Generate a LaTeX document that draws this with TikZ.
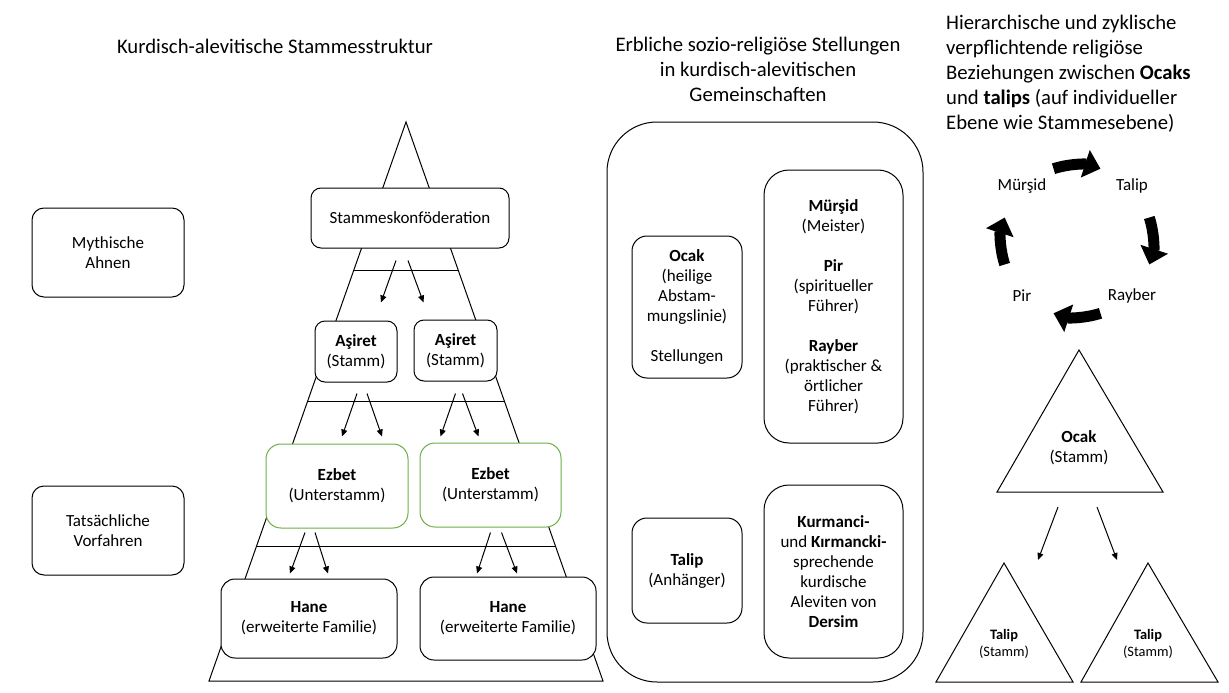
\documentclass[tikz,border=0pt]{standalone}
\usepackage{fontspec}
\setmainfont{Carlito}
\usepackage{tikz}
\usetikzlibrary{arrows.meta,calc}

\definecolor{ezgreen}{RGB}{112,173,71}
\newcommand{\boxtxt}{\fontsize{17}{20}\selectfont}
\newcommand{\headtxt}{\fontsize{20.7}{25}\selectfont}
\newcommand{\smalltxt}{\fontsize{14.4}{17}\selectfont}

\tikzset{
  line/.style={line width=1pt},
  box/.style={draw, line, fill=white, rounded corners=10pt, align=center, inner sep=0pt, font=\boxtxt},
  greenbox/.style={box, draw=ezgreen},
  head/.style={align=center, inner sep=0pt, font=\headtxt},
  lbl/.style={align=center, inner sep=0pt, font=\boxtxt},
  arr/.style={line, -{Triangle[length=7pt,width=6pt]}},
  cycarr/.style={line width=11pt, -{Triangle[length=16pt,width=28pt]}}
}

\begin{document}
\begin{tikzpicture}[x=1pt,y=-1pt]
    \useasboundingbox (0,0) rectangle (1229,693);

    \node[head] (titelA) at (275,46) {Kurdisch-alevitische Stammesstruktur};
    \node[head] (titelB) at (758,69) {Erbliche sozio-religiöse Stellungen\\in kurdisch-alevitischen\\Gemeinschaften};
    \node[head, anchor=west, align=left] (titelC) at (946,74) {Hierarchische und zyklische\\verpflichtende religiöse\\Beziehungen zwischen \textbf{Ocaks}\\und \textbf{talips} (auf individueller\\Ebene wie Stammesebene)};

    \node[box, rounded corners=12pt, minimum width=152, minimum height=89] (myth) at (108,252.5) {Mythische\\Ahnen};
    \node[box, rounded corners=12pt, minimum width=152, minimum height=89] (vorf) at (108,530.5) {Tatsächliche\\Vorfahren};

    % pyramide
    \coordinate (spitze) at (406,122);
    \coordinate (basisL) at (209,681);
    \coordinate (basisR) at (603,681);
    \draw[line] (spitze) -- (basisL) -- (basisR) -- cycle;
    \foreach \t in {0.265,0.5,0.76}
        \draw[line] ($(spitze)!\t!(basisL)$) -- ($(spitze)!\t!(basisR)$);

    \node[box, minimum width=198, minimum height=60] (stamm) at (410,218) {Stammeskonföderation};
    \node[box, minimum width=82, minimum height=61] (asiret1) at (356,351.5) {\textbf{Aşiret}\\(Stamm)};
    \node[box, minimum width=83, minimum height=61] (asiret2) at (455.5,350.5) {\textbf{Aşiret}\\(Stamm)};
    \node[greenbox, rounded corners=15pt, minimum width=142, minimum height=84] (ezbet1) at (337,486) {\textbf{Ezbet}\\(Unterstamm)};
    \node[greenbox, rounded corners=15pt, minimum width=141, minimum height=84] (ezbet2) at (490.5,485) {\textbf{Ezbet}\\(Unterstamm)};
    \node[box, rounded corners=14pt, minimum width=176, minimum height=79] (hane1) at (309,618.5) {\textbf{Hane}\\(erweiterte Familie)};
    \node[box, rounded corners=14pt, minimum width=176, minimum height=83] (hane2) at (508,618.5) {\textbf{Hane}\\(erweiterte Familie)};

    \draw[arr] ([shift={(-14,12)}]stamm.south) -- ([shift={(25,-18)}]asiret1.north);
    \draw[arr] ([shift={(-2,12)}]stamm.south) -- ([shift={(-32,-17)}]asiret2.north);
    \draw[arr] ([shift={(1,11)}]asiret1.south) -- ([shift={(5,-7)}]ezbet1.north);
    \draw[arr] ([shift={(11,11)}]asiret1.south) -- ([shift={(45,-7)}]ezbet1.north);
    \draw[arr] ([shift={(0,12)}]asiret2.south) -- ([shift={(-50,-6)}]ezbet2.north);
    \draw[arr] ([shift={(7,12)}]asiret2.south) -- ([shift={(-12,-6)}]ezbet2.north);
    \draw[arr] ([shift={(-32,4)}]ezbet1.south) -- ([shift={(-19,-5)}]hane1.north);
    \draw[arr] ([shift={(-22,4)}]ezbet1.south) -- ([shift={(19,-5)}]hane1.north);
    \draw[arr] ([shift={(0,5)}]ezbet2.south) -- ([shift={(-31,-3)}]hane2.north);
    \draw[arr] ([shift={(11,5)}]ezbet2.south) -- ([shift={(9,-3)}]hane2.north);

    % stellungen
    \node[box, rounded corners=50pt, minimum width=316, minimum height=560] (rahmen) at (765,402) {};
    \node[box, rounded corners=15pt, minimum width=110, minimum height=142] (ocakbox) at (687,307) {\textbf{Ocak}\\(heilige\\Abstam-\\mungslinie)\\[20pt]Stellungen};
    \node[box, rounded corners=25pt, minimum width=139, minimum height=273] (fuehrer) at (833.5,306.5) {\textbf{Mürşid}\\(Meister)\\[20pt]\textbf{Pir}\\(spiritueller\\Führer)\\[20pt]\textbf{Rayber}\\(praktischer \&\\örtlicher\\Führer)};
    \node[box, rounded corners=15pt, minimum width=110, minimum height=105] (talipbox) at (687,570.5) {\textbf{Talip}\\(Anhänger)};
    \node[box, rounded corners=25pt, minimum width=139, minimum height=173] (dersim) at (833.5,571.5) {\textbf{Kurmanci-}\\und \textbf{Kırmancki-}\\sprechende\\kurdische\\Aleviten von\\\textbf{Dersim}};

    % zyklus
    \coordinate (mitte) at (1077,241);
    \node[lbl] (mursid) at (1022,186) {Mürşid};
    \node[lbl] (talip) at (1132,186) {Talip};
    \node[lbl] (rayber) at (1132,296) {Rayber};
    \node[lbl] (pir) at (1022,296) {Pir};
    \draw[cycarr] ([shift={(-108:76)}]mitte) arc[start angle=-108, end angle=-72, radius=76];
    \draw[cycarr] ([shift={(-18:76)}]mitte) arc[start angle=-18, end angle=18, radius=76];
    \draw[cycarr] ([shift={(72:76)}]mitte) arc[start angle=72, end angle=108, radius=76];
    \draw[cycarr] ([shift={(162:76)}]mitte) arc[start angle=162, end angle=198, radius=76];

    % ocak und talips
    \coordinate (ocakA) at (1079,350);
    \coordinate (ocakB) at (1079,492);
    \draw[line] (ocakA) -- (997,492) -- (1163,492) -- cycle;
    \node[lbl] (ocak) at (1079,448) {\textbf{Ocak}\\(Stamm)};
    \coordinate (talipA) at (1004,563);
    \coordinate (talipB) at (1148,563);
    \draw[line] (talipA) -- (936,682) -- (1073,682) -- cycle;
    \draw[line] (talipB) -- (1081,682) -- (1218,682) -- cycle;
    \node[lbl, font=\smalltxt] (stammA) at (1004,643.5) {\textbf{Talip}\\(Stamm)};
    \node[lbl, font=\smalltxt] (stammB) at (1148,643.5) {\textbf{Talip}\\(Stamm)};
    \draw[arr] ([shift={(-21,15)}]ocakB) -- ([shift={(34,-3)}]talipA);
    \draw[arr] ([shift={(18,15)}]ocakB) -- ([shift={(-31,-3)}]talipB);

\end{tikzpicture}
\end{document}
